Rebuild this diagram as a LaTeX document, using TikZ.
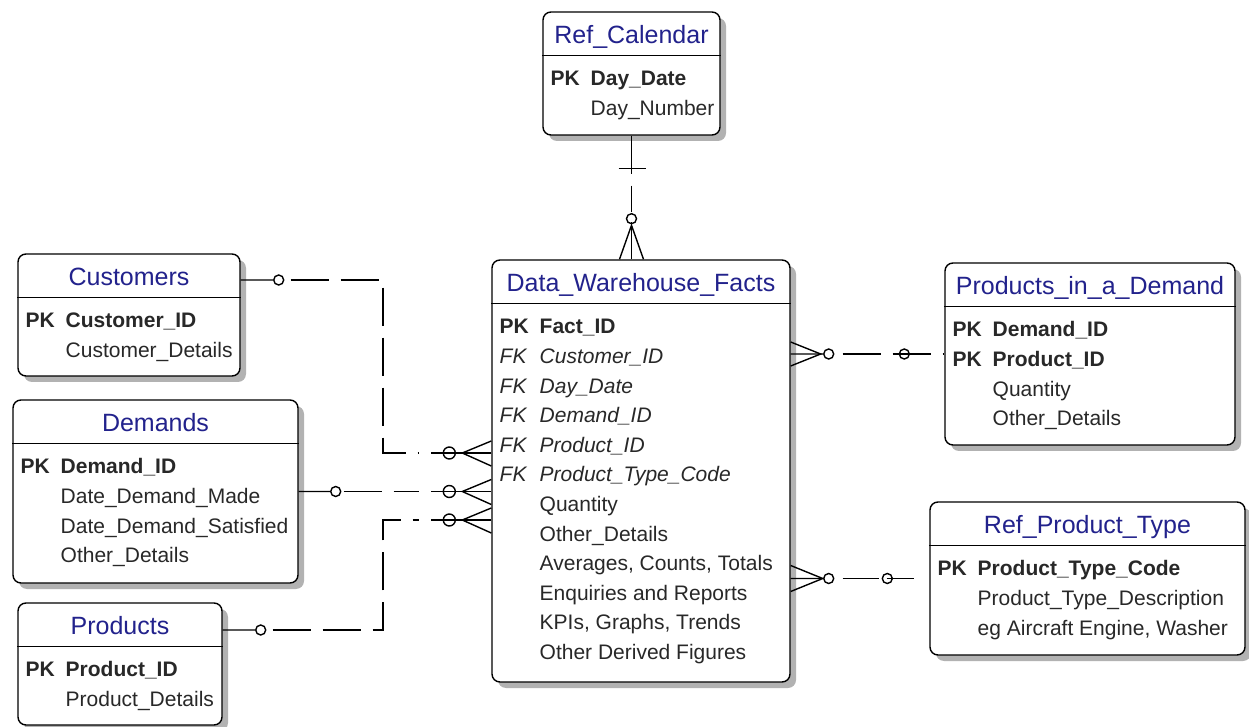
\documentclass[tikz,border=0pt]{standalone}
\usepackage{fontspec}
\setmainfont{Liberation Sans}
\usetikzlibrary{shadows}
\definecolor{titleblue}{RGB}{34,34,140}
\definecolor{attrgray}{RGB}{40,40,40}

\begin{document}
\begin{tikzpicture}[x=0.5pt,y=-0.5pt]
\tikzset{tabl/.style={draw, line width=0.7pt, rounded corners=4pt, fill=white, inner sep=0pt,
    drop shadow={shadow xshift=3pt, shadow yshift=-3pt, fill=black!30, opacity=1}},
  titre/.style={anchor=base, text=titleblue, font=\fontsize{12.5}{15}\selectfont, inner sep=0pt},
  attrs/.style={anchor=north west, text=attrgray, font=\fontsize{10.5}{14.8}\selectfont, inner sep=0pt},
  relline/.style={line width=0.7pt},
  reldash/.style={relline, dash pattern=on 19pt off 6pt}}
\useasboundingbox (0,0) rectangle (1249,727);

% tables
\node[tabl, minimum width=88.5pt, minimum height=61.5pt] (cal) at (631.5,73.5) {};
\node[titre] (cal-t) at ([yshift=-16pt]cal.north) {Ref\_Calendar};
\draw[relline] ([yshift=-22pt]cal.north west) -- ([yshift=-22pt]cal.north east);
\node[attrs] (cal-a) at ([xshift=4pt,yshift=-26.75pt]cal.north west) {\begin{tabular}{@{}p{20pt}@{}l@{}}
\textbf{PK} & \textbf{Day\_Date}\\
 & Day\_Number
\end{tabular}};

\node[tabl, minimum width=111pt, minimum height=61pt] (cust) at (129,315) {};
\node[titre] (cust-t) at ([yshift=-16pt]cust.north) {Customers};
\draw[relline] ([yshift=-22pt]cust.north west) -- ([yshift=-22pt]cust.north east);
\node[attrs] (cust-a) at ([xshift=4pt,yshift=-26.75pt]cust.north west) {\begin{tabular}{@{}p{20pt}@{}l@{}}
\textbf{PK} & \textbf{Customer\_ID}\\
 & Customer\_Details
\end{tabular}};

\node[tabl, minimum width=142.5pt, minimum height=91.5pt] (dem) at (155.5,491.5) {};
\node[titre] (dem-t) at ([yshift=-16pt]dem.north) {Demands};
\draw[relline] ([yshift=-22pt]dem.north west) -- ([yshift=-22pt]dem.north east);
\node[attrs] (dem-a) at ([xshift=4pt,yshift=-26.75pt]dem.north west) {\begin{tabular}{@{}p{20pt}@{}l@{}}
\textbf{PK} & \textbf{Demand\_ID}\\
 & Date\_Demand\_Made\\
 & Date\_Demand\_Satisfied\\
 & Other\_Details
\end{tabular}};

\node[tabl, minimum width=102pt, minimum height=61pt] (prod) at (120,664) {};
\node[titre] (prod-t) at ([yshift=-16pt]prod.north) {Products};
\draw[relline] ([yshift=-22pt]prod.north west) -- ([yshift=-22pt]prod.north east);
\node[attrs] (prod-a) at ([xshift=4pt,yshift=-26.75pt]prod.north west) {\begin{tabular}{@{}p{20pt}@{}l@{}}
\textbf{PK} & \textbf{Product\_ID}\\
 & Product\_Details
\end{tabular}};

\node[tabl, minimum width=149pt, minimum height=211pt] (facts) at (641,471) {};
\node[titre] (facts-t) at ([yshift=-16pt]facts.north) {Data\_Warehouse\_Facts};
\draw[relline] ([yshift=-22pt]facts.north west) -- ([yshift=-22pt]facts.north east);
\node[attrs] (facts-a) at ([xshift=4pt,yshift=-26.75pt]facts.north west) {\begin{tabular}{@{}p{20pt}@{}l@{}}
\textbf{PK} & \textbf{Fact\_ID}\\
\textit{FK} & \textit{Customer\_ID}\\
\textit{FK} & \textit{Day\_Date}\\
\textit{FK} & \textit{Demand\_ID}\\
\textit{FK} & \textit{Product\_ID}\\
\textit{FK} & \textit{Product\_Type\_Code}\\
 & Quantity\\
 & Other\_Details\\
 & Averages, Counts, Totals\\
 & Enquiries and Reports\\
 & KPIs, Graphs, Trends\\
 & Other Derived Figures
\end{tabular}};

\node[tabl, minimum width=145pt, minimum height=91pt] (piad) at (1090,354) {};
\node[titre] (piad-t) at ([yshift=-16pt]piad.north) {Products\_in\_a\_Demand};
\draw[relline] ([yshift=-22pt]piad.north west) -- ([yshift=-22pt]piad.north east);
\node[attrs] (piad-a) at ([xshift=4pt,yshift=-26.75pt]piad.north west) {\begin{tabular}{@{}p{20pt}@{}l@{}}
\textbf{PK} & \textbf{Demand\_ID}\\
\textbf{PK} & \textbf{Product\_ID}\\
 & Quantity\\
 & Other\_Details
\end{tabular}};

\node[tabl, minimum width=157.5pt, minimum height=76.5pt] (rpt) at (1087.5,578.5) {};
\node[titre] (rpt-t) at ([yshift=-16pt]rpt.north) {Ref\_Product\_Type};
\draw[relline] ([yshift=-22pt]rpt.north west) -- ([yshift=-22pt]rpt.north east);
\node[attrs] (rpt-a) at ([xshift=4pt,yshift=-26.75pt]rpt.north west) {\begin{tabular}{@{}p{20pt}@{}l@{}}
\textbf{PK} & \textbf{Product\_Type\_Code}\\
 & Product\_Type\_Description\\
 & eg Aircraft Engine, Washer
\end{tabular}};

% calendar -> facts
\draw[reldash, shorten >=23.5pt] (cal.south) -- (cal.south |- facts.north);
\draw[relline] (cal.south) ++(-13,33) -- ++(27,0);
\draw[relline] (cal.south) ++(0,83) circle[radius=2.5pt];
\draw[relline] (cal.south |- facts.north) -- ++(0,-37);
\draw[relline] (cal.south |- facts.north) ++(-12,0) -- ++(12,-34) -- ++(12,34);

% customers -> facts
\coordinate (k1) at (383,280);
\coordinate (k2) at (383,453);
\draw[reldash, shorten <=25pt, shorten >=36pt] (cust.east |- k1) -- (k1) -- (k2) -- (facts.west |- k2);
\draw[relline] (cust.east |- k1) -- ++(33,0) ++(5,0) circle[radius=2.5pt];
\draw[relline] (facts.west |- k2) -- ++(-60,0);
\draw[relline] (facts.west |- k2) ++(-42,0) circle[radius=3pt];
\draw[relline] (facts.west |- k2) ++(0,-12) -- ++(-29,12) -- ++(29,13);

% demands -> facts
\draw[reldash, shorten <=22.5pt, shorten >=36pt] (dem.east) -- (facts.west |- dem.east);
\draw[relline] (dem.east) -- ++(32,0) ++(5,0) circle[radius=2.5pt];
\draw[relline] (facts.west |- dem.east) -- ++(-60,0);
\draw[relline] (facts.west |- dem.east) ++(-42,0) circle[radius=3pt];
\draw[relline] (facts.west |- dem.east) ++(0,-12) -- ++(-29,12) -- ++(29,13);

% products -> facts
\coordinate (k3) at (383,630);
\coordinate (k4) at (383,520);
\draw[reldash, shorten <=25pt, shorten >=36pt] (prod.east |- k3) -- (k3) -- (k4) -- (facts.west |- k4);
\draw[relline] (prod.east |- k3) -- ++(33,0) ++(5,0) circle[radius=2.5pt];
\draw[relline] (facts.west |- k4) -- ++(-60,0);
\draw[relline] (facts.west |- k4) ++(-42,0) circle[radius=3pt];
\draw[relline] (facts.west |- k4) ++(0,-12) -- ++(-29,12) -- ++(29,13);

% facts -> products in a demand
\draw[reldash, shorten <=26pt] (facts.east |- piad.west) -- (piad.west);
\draw[relline] (facts.east |- piad.west) -- ++(33,0) ++(5,0) circle[radius=2.5pt];
\draw[relline] (facts.east |- piad.west) ++(0,-12) -- ++(30,12) -- ++(-30,12);
\draw[relline] (piad.west) ++(-40,0) circle[radius=2.5pt];

% facts -> ref product type
\draw[relline, dash pattern=on 18pt off 4pt, shorten <=26pt, shorten >=7.5pt] (facts.east |- rpt.west) -- (rpt.west);
\draw[relline] (facts.east |- rpt.west) -- ++(33,0) ++(5,0) circle[radius=2.5pt];
\draw[relline] (facts.east |- rpt.west) ++(0,-13) -- ++(32,13) -- ++(-32,13);
\draw[relline] (rpt.west) ++(-42,0) circle[radius=2.5pt];
\end{tikzpicture}
\end{document}
